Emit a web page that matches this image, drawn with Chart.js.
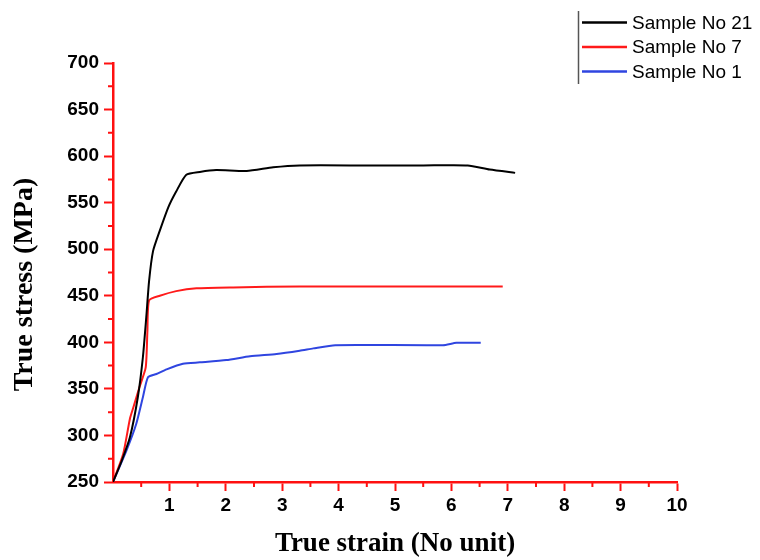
<!DOCTYPE html>
<html><head><meta charset="utf-8">
<script src="https://cdn.jsdelivr.net/npm/chart.js@4"></script>
<style>html,body{margin:0;padding:0;background:#fff}</style>
</head><body>
<canvas id="c" width="760" height="560" style="width:760px;height:560px;display:block"></canvas>
<script>
const seriesLabels = ['Sample No 21', 'Sample No 7', 'Sample No 1'];

const s21x = [0, 0.15, 0.3, 0.44, 0.53, 0.59, 0.64, 0.71, 0.83, 0.98, 1.12, 1.3, 1.54, 1.83, 2.37, 2.84, 3.31, 4.5, 5.5, 6.29, 6.68, 7.13];
const s21y = [250, 272, 298, 341, 384, 427, 466, 498, 520, 545, 562, 580, 583, 585, 584, 588, 590, 590, 590, 590, 585.5, 582];

const s7x = [0, 0.18, 0.3, 0.36, 0.47, 0.58, 0.61, 0.64, 0.83, 1.12, 1.48, 2.13, 3.31, 5.0, 6.91];
const s7y = [250, 280, 318, 330, 352, 373, 412, 445, 450, 455, 458, 459, 460, 460, 460];

const s1x = [0, 0.24, 0.41, 0.53, 0.62, 0.77, 0.95, 1.24, 1.54, 2.01, 2.43, 2.9, 3.31, 3.55, 3.94, 5.85, 6.09, 6.52];
const s1y = [250, 284, 312, 341, 362.5, 366, 371, 377, 378.5, 381, 385, 387.5, 391, 393.5, 397, 397, 399.5, 399.5];

const xTickValues = [1, 2, 3, 4, 5, 6, 7, 8, 9, 10];
const yTickValues = [250, 300, 350, 400, 450, 500, 550, 600, 650, 700];
const xMinorValues = [0.5, 1.5, 2.5, 3.5, 4.5, 5.5, 6.5, 7.5, 8.5, 9.5];
const yMinorValues = [275, 325, 375, 425, 475, 525, 575, 625, 675];

const xTitle = 'True strain (No unit)';
const yTitle = 'True stress (MPa)';

const colors = ['#000000', '#ff1a1a', '#2f45e0'];
const red = '#ff1010';

function pts(xs, ys) { return xs.map((x, i) => ({ x: x, y: ys[i] })); }

const extrasPlugin = {
  id: 'extras',
  afterDraw(chart) {
    const ctx = chart.ctx;
    const xs = chart.scales.x, ys = chart.scales.y;
    const area = chart.chartArea;
    ctx.save();
    // minor ticks
    ctx.strokeStyle = red;
    ctx.lineWidth = 2;
    ctx.beginPath();
    xMinorValues.forEach(v => {
      const p = xs.getPixelForValue(v);
      ctx.moveTo(p, area.bottom);
      ctx.lineTo(p, area.bottom + 5);
    });
    yMinorValues.forEach(v => {
      const p = ys.getPixelForValue(v);
      ctx.moveTo(area.left, p);
      ctx.lineTo(area.left - 5, p);
    });
    ctx.stroke();
    // y title
    ctx.save();
    ctx.translate(25, (area.top + area.bottom) / 2 + 12);
    ctx.rotate(-Math.PI / 2);
    ctx.font = 'bold 28px "Liberation Serif", "Times New Roman", serif';
    ctx.fillStyle = '#000';
    ctx.textAlign = 'center';
    ctx.textBaseline = 'middle';
    ctx.fillText(yTitle, 0, 0);
    ctx.restore();
    // legend
    ctx.strokeStyle = '#555';
    ctx.lineWidth = 1.5;
    ctx.beginPath();
    ctx.moveTo(578.5, 11);
    ctx.lineTo(578.5, 84);
    ctx.stroke();
    ctx.font = '19px "Liberation Sans", Arial, sans-serif';
    ctx.textBaseline = 'middle';
    ctx.textAlign = 'left';
    ctx.fillStyle = '#000';
    chart.data.datasets.forEach((ds, i) => {
      const y = 22.5 + 24.5 * i;
      ctx.strokeStyle = ds.borderColor;
      ctx.lineWidth = 2.5;
      ctx.beginPath();
      ctx.moveTo(582, y);
      ctx.lineTo(627, y);
      ctx.stroke();
      ctx.fillText(ds.label, 632, y + 1);
    });
    ctx.restore();
  }
};

new Chart(document.getElementById('c'), {
  type: 'scatter',
  data: {
    datasets: [
      { label: seriesLabels[0], data: pts(s21x, s21y), borderColor: colors[0] },
      { label: seriesLabels[1], data: pts(s7x, s7y), borderColor: colors[1] },
      { label: seriesLabels[2], data: pts(s1x, s1y), borderColor: colors[2] }
    ].map(d => Object.assign(d, { showLine: true, pointRadius: 0, borderWidth: 2, tension: 0.2, fill: false }))
  },
  options: {
    responsive: false,
    animation: false,
    layout: { padding: { top: 63, right: 83, left: 0, bottom: 0 } },
    plugins: { legend: { display: false }, tooltip: { enabled: false } },
    scales: {
      x: {
        type: 'linear', min: 0, max: 10,
        afterFit(s) { s.height = 78; },
        afterBuildTicks(s) { s.ticks = [{ value: 0 }].concat(xTickValues.map(v => ({ value: v }))); },
        border: { color: red, width: 2.5 },
        grid: { drawOnChartArea: false, tickLength: 9, tickWidth: 2, tickColor: (c) => c.tick && c.tick.value === 0 ? 'rgba(0,0,0,0)' : red },
        ticks: {
          padding: 3,
          color: '#000',
          font: { family: '"Liberation Sans", Arial, sans-serif', size: 19, weight: 'bold' },
          maxRotation: 0,
          autoSkip: false,
          callback: (v) => xTickValues.includes(v) ? String(v) : ''
        },
        title: {
          display: true, text: xTitle, color: '#000',
          font: { family: '"Liberation Serif", "Times New Roman", serif', size: 27, weight: 'bold' },
          padding: { top: 0, bottom: 0 }
        }
      },
      y: {
        type: 'linear', min: 250, max: 700,
        afterFit(s) { s.width = 113; },
        afterBuildTicks(s) { s.ticks = yTickValues.map(v => ({ value: v })); },
        border: { color: red, width: 2.5 },
        grid: { drawOnChartArea: false, tickLength: 9, tickWidth: 2, tickColor: red },
        ticks: {
          padding: 5,
          color: '#000',
          font: { family: '"Liberation Sans", Arial, sans-serif', size: 19, weight: 'bold' },
          autoSkip: false,
          callback: (v) => yTickValues.includes(v) ? String(v) : ''
        },
        title: { display: false }
      }
    }
  },
  plugins: [extrasPlugin]
});
</script>
</body></html>
